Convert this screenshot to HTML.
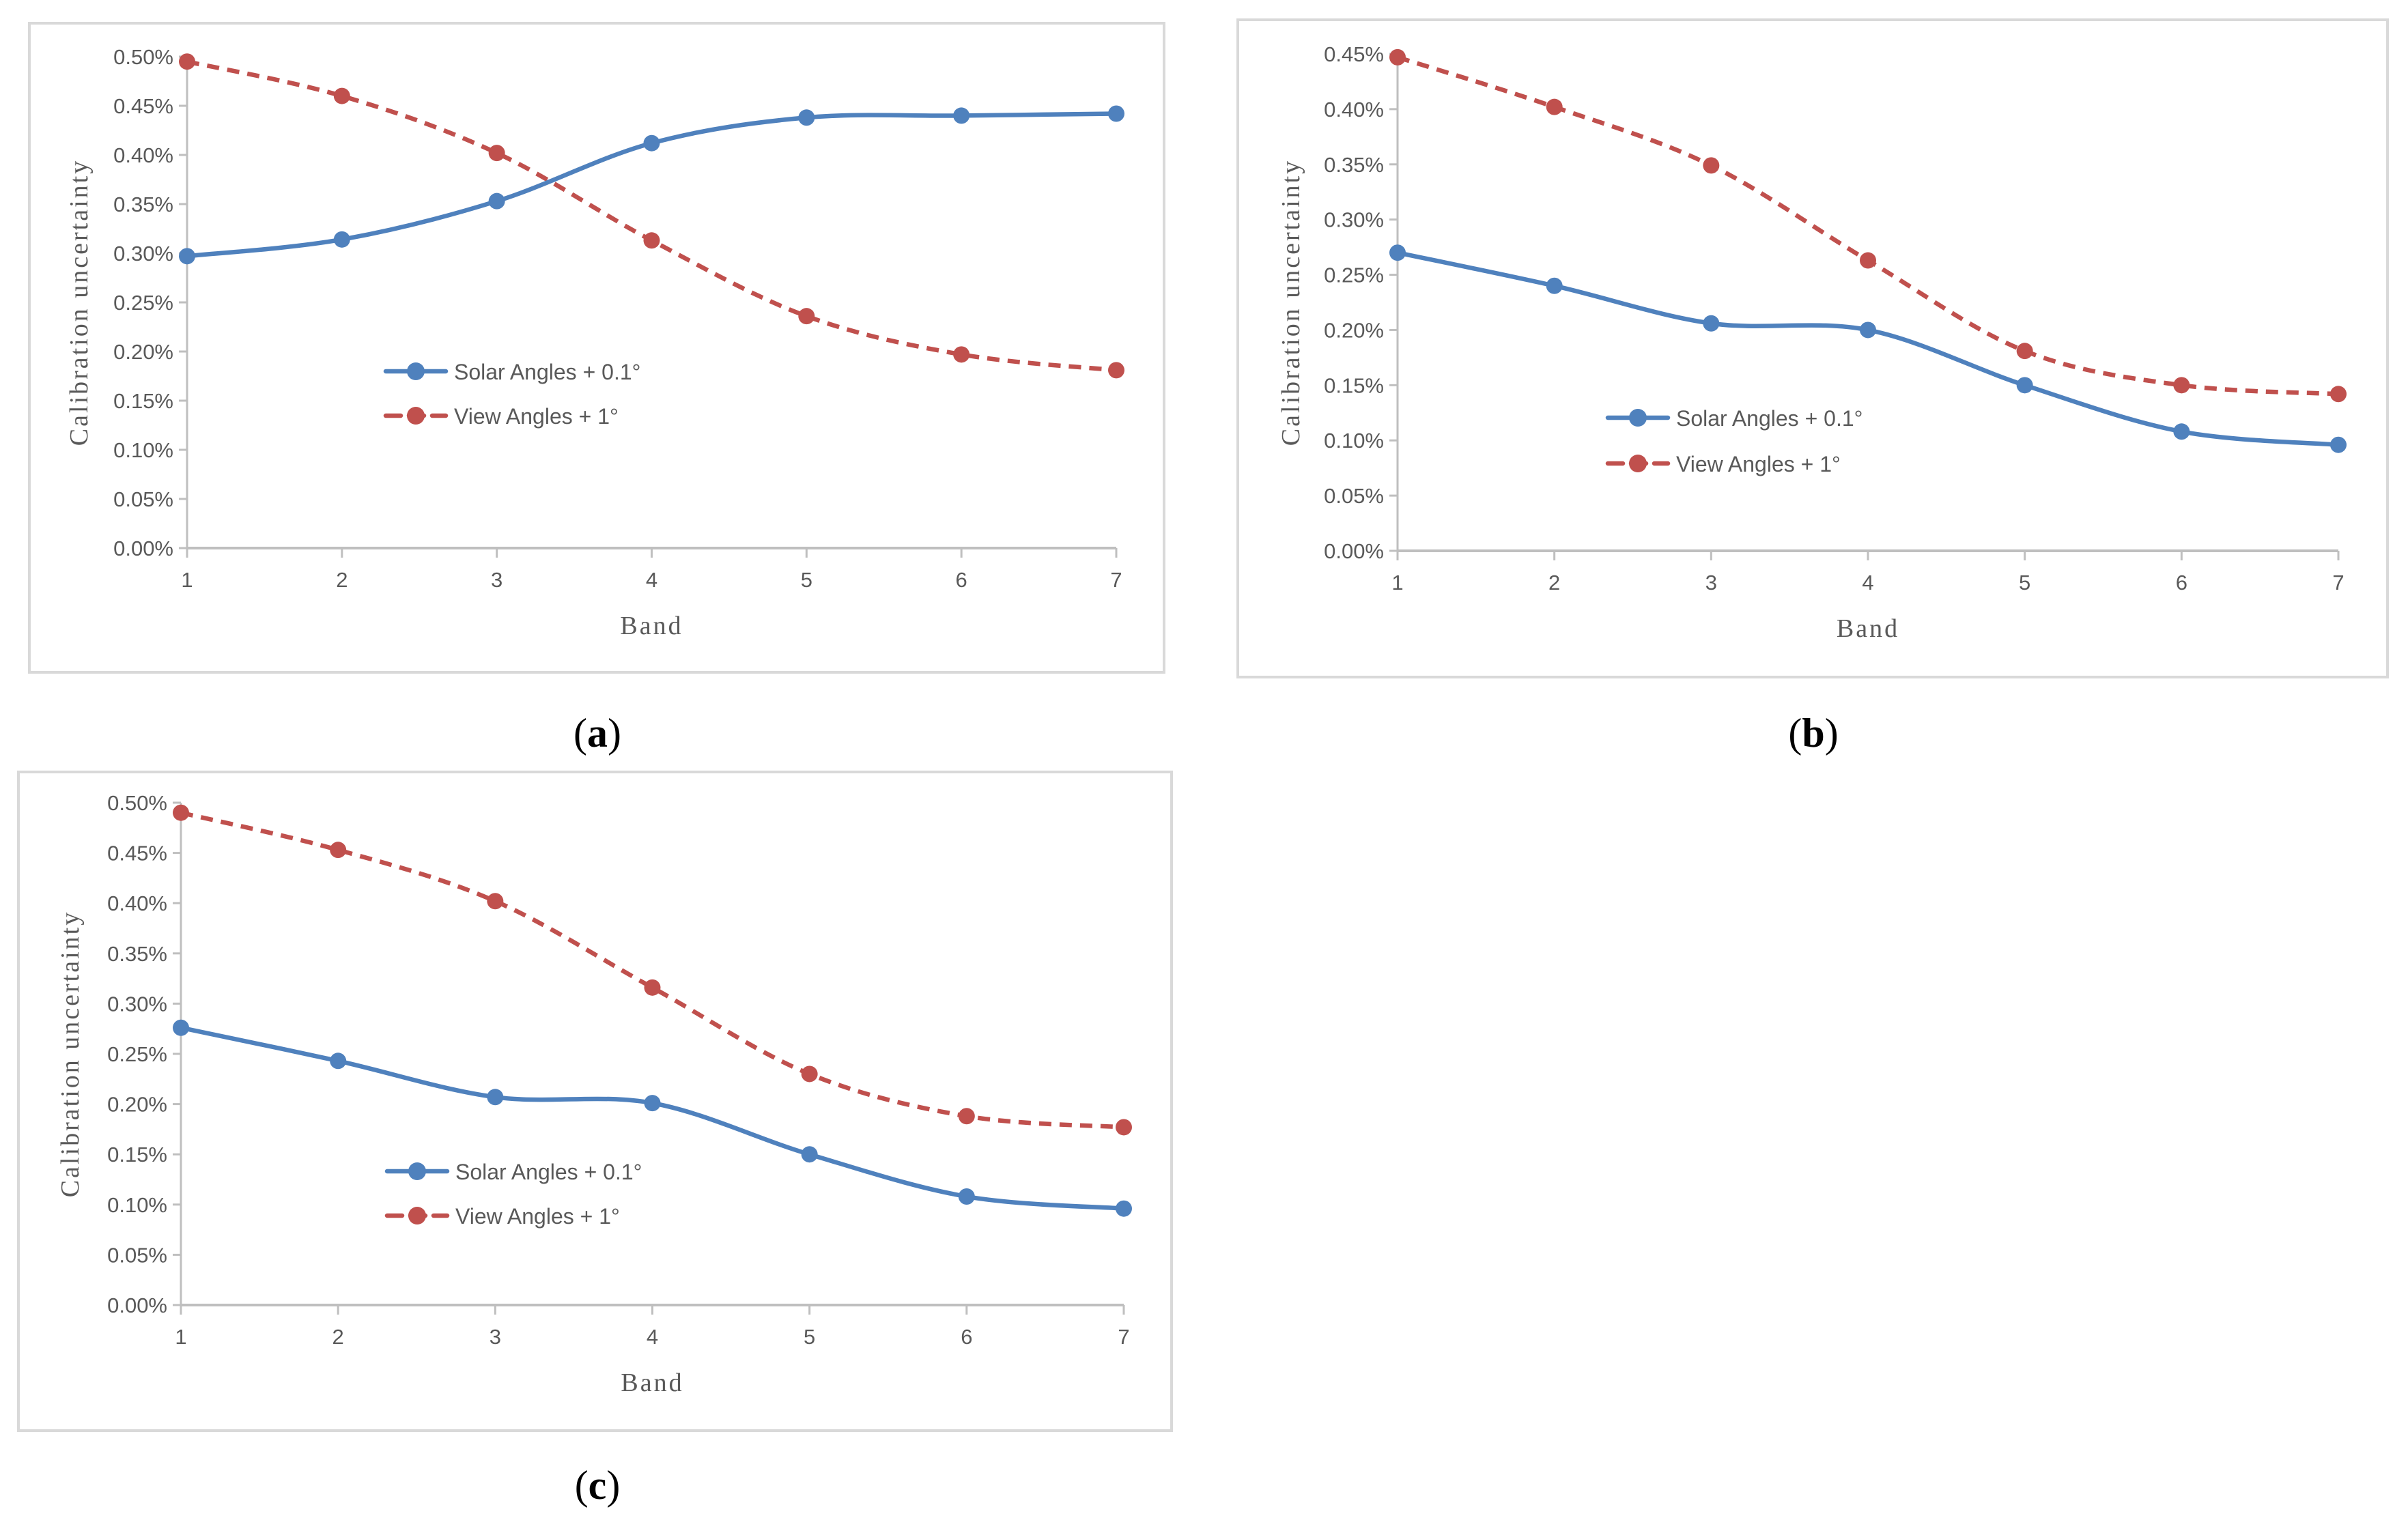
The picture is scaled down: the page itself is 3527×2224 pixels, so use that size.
<!DOCTYPE html>
<html><head><meta charset="utf-8"><style>
html,body{margin:0;padding:0;background:#fff;}
svg{display:block;}
.tick{font-family:"Liberation Sans",sans-serif;font-size:31px;fill:#595959;}
.leg{font-family:"Liberation Sans",sans-serif;font-size:32px;fill:#595959;}
.ttl{font-family:"Liberation Serif",serif;font-size:38px;fill:#595959;letter-spacing:3px;}
.cap{font-family:"Liberation Serif",serif;font-size:60px;fill:#000;}
</style></head><body>
<svg id="fig" width="3527" height="2224" viewBox="0 0 3527 2224" xmlns="http://www.w3.org/2000/svg"></svg>
<script>
const bands = [1,2,3,4,5,6,7];
const solarA = [0.297,0.314,0.353,0.412,0.438,0.440,0.442];
const viewA  = [0.495,0.460,0.402,0.313,0.236,0.197,0.181];
const solarB = [0.270,0.240,0.206,0.200,0.150,0.108,0.096];
const viewB  = [0.447,0.402,0.349,0.263,0.181,0.150,0.142];
const solarC = [0.276,0.243,0.207,0.201,0.150,0.108,0.096];
const viewC  = [0.490,0.453,0.402,0.316,0.230,0.188,0.177];
const ticksA = [0,0.05,0.10,0.15,0.20,0.25,0.30,0.35,0.40,0.45,0.50];
const ticksB = [0,0.05,0.10,0.15,0.20,0.25,0.30,0.35,0.40,0.45];
const ticksC = [0,0.05,0.10,0.15,0.20,0.25,0.30,0.35,0.40,0.45,0.50];
const legendLabels = ["Solar Angles + 0.1°","View Angles + 1°"];

const NS="http://www.w3.org/2000/svg";
const svg=document.getElementById('fig');
function mk(tag,attrs,parent,text){const e=document.createElementNS(NS,tag);for(const k in attrs)e.setAttribute(k,attrs[k]);if(text!==undefined)e.textContent=text;(parent||svg).appendChild(e);return e;}
function smooth(pts){let d=`M${pts[0][0]},${pts[0][1]}`;for(let i=0;i<pts.length-1;i++){const p0=pts[Math.max(0,i-1)],p1=pts[i],p2=pts[i+1],p3=pts[Math.min(pts.length-1,i+2)];const c1=[p1[0]+(p2[0]-p0[0])/6,p1[1]+(p2[1]-p0[1])/6];const c2=[p2[0]-(p3[0]-p1[0])/6,p2[1]-(p3[1]-p1[1])/6];d+=` C${c1[0]},${c1[1]} ${c2[0]},${c2[1]} ${p2[0]},${p2[1]}`;}return d;}

function chart(cfg,key){
  const g=mk('g',{});
  
  
  const fr=mk('rect',{x:cfg.fx,y:cfg.fy,width:cfg.fw,height:cfg.fh,fill:'#fff',stroke:'#d9d9d9','stroke-width':4},g);
  
  
  const ymax=cfg.ticks[cfg.ticks.length-1];
  const X=b=>cfg.x1+(b-1)*(cfg.x7-cfg.x1)/6;
  const Y=v=>cfg.y0-v/ymax*(cfg.y0-cfg.yt);
  const ya=mk('line',{x1:cfg.x1,y1:Y(ymax),x2:cfg.x1,y2:cfg.y0,stroke:'#bfbfbf','stroke-width':3},g);
  
  
  cfg.ticks.forEach(t=>{
    mk('line',{x1:cfg.x1-12,y1:Y(t),x2:cfg.x1,y2:Y(t),stroke:'#bfbfbf','stroke-width':3},g);
    const tl=mk('text',{x:cfg.x1-20,y:Y(t)+11,'text-anchor':'end',class:'tick'},g,t.toFixed(2)+'%');
    
    
  });
  const xa=mk('line',{x1:cfg.x1,y1:cfg.y0,x2:cfg.x7,y2:cfg.y0,stroke:'#bfbfbf','stroke-width':4},g);
  
  
  bands.forEach(b=>{
    mk('line',{x1:X(b),y1:cfg.y0,x2:X(b),y2:cfg.y0+14,stroke:'#bfbfbf','stroke-width':3},g);
    const tl=mk('text',{x:X(b),y:cfg.y0+57,'text-anchor':'middle',class:'tick'},g,String(b));
    
    
  });
  const xt=mk('text',{x:(cfg.x1+cfg.x7)/2,y:cfg.y0+126,'text-anchor':'middle',class:'ttl'},g,'Band');
  
  
  const cy=(cfg.y0+Y(ymax))/2;
  const yt=mk('text',{x:cfg.ytx,y:cy,'text-anchor':'middle',class:'ttl',transform:`rotate(-90 ${cfg.ytx} ${cy})`},g,'Calibration uncertainty');
  
  
  [[cfg.view,'#c0504d',true,'view-angles'],[cfg.solar,'#4f81bd',false,'solar-angles']].forEach(([vals,col,dash,nm])=>{
    const pts=vals.map((v,i)=>[X(bands[i]),Y(v)]);
    const p=mk('path',{d:smooth(pts),fill:'none',stroke:col,'stroke-width':6.5,'stroke-dasharray':dash?'18 12':'none'},g);
    
    
    pts.forEach(q=>{
      const c=mk('circle',{cx:q[0],cy:q[1],r:12,fill:col},g);
      
      
    });
  });
  [[cfg.ly1,'#4f81bd',false,0],[cfg.ly2,'#c0504d',true,1]].forEach(([ly,col,dash,i])=>{
    const lg=mk('g',{},g);
    
    
    mk('line',{x1:cfg.lx,y1:ly,x2:cfg.lx+88,y2:ly,stroke:col,'stroke-width':6.5,'stroke-dasharray':dash?'22 12':'none','stroke-linecap':'round'},lg);
    mk('circle',{cx:cfg.lx+44,cy:ly,r:13,fill:col},lg);
    mk('text',{x:cfg.lx+100,y:ly+12,class:'leg'},lg,legendLabels[i]);
  });
  const cap=mk('text',{x:cfg.capx,y:cfg.capy,'text-anchor':'middle',class:'cap'},svg);
  
  
  mk('tspan',{},cap,'(');mk('tspan',{'font-weight':'bold'},cap,key);mk('tspan',{},cap,')');
}
chart({fx:43,fy:34,fw:1662,fh:951,x1:274,x7:1635,y0:803,yt:83,ticks:ticksA,solar:solarA,view:viewA,ytx:128,lx:565,ly1:544,ly2:609,capx:875,capy:1094},'a');
chart({fx:1813,fy:29,fw:1684,fh:963,x1:2047,x7:3425,y0:807,yt:79,ticks:ticksB,solar:solarB,view:viewB,ytx:1903,lx:2355,ly1:612,ly2:679,capx:2656,capy:1094},'b');
chart({fx:27,fy:1131,fw:1689,fh:965,x1:265,x7:1646,y0:1912,yt:1176,ticks:ticksC,solar:solarC,view:viewC,ytx:115,lx:567,ly1:1716,ly2:1781,capx:875,capy:2196},'c');
</script>
</body></html>
